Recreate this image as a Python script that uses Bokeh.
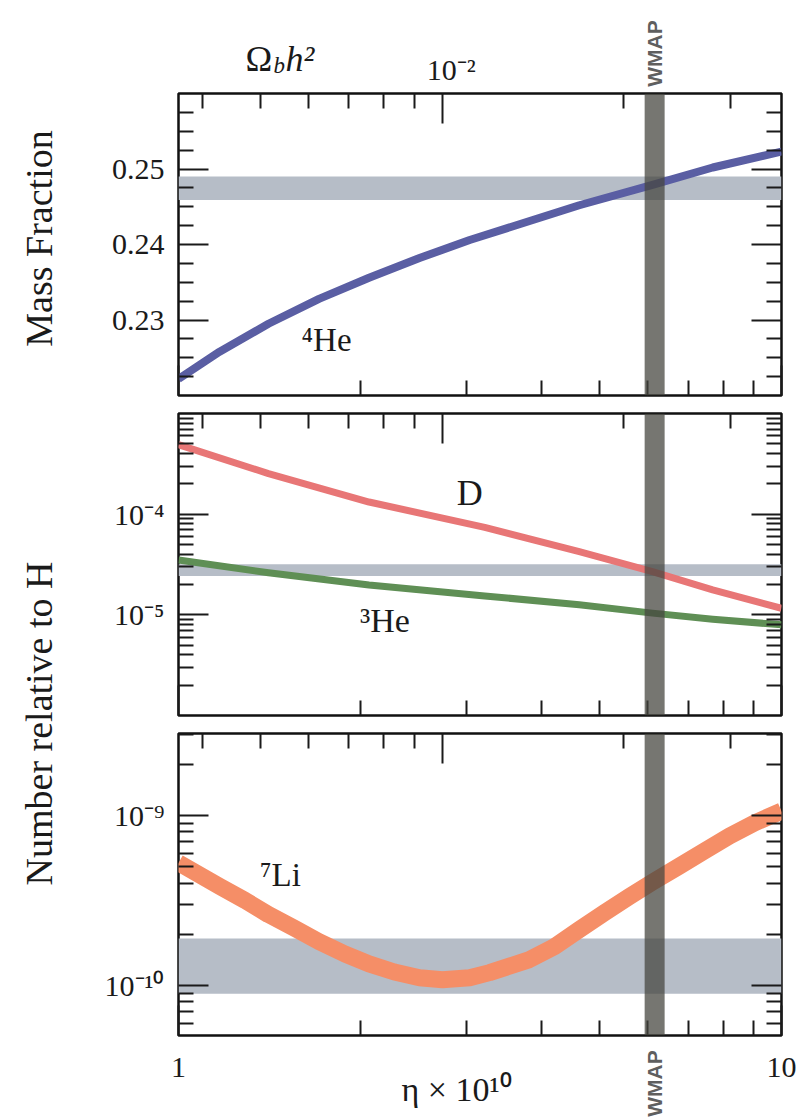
import math
from bokeh.plotting import figure
from bokeh.models import Range1d, LogScale, LogAxis, LinearAxis, FixedTicker, BoxAnnotation, Label
from bokeh.layouts import row, column
from bokeh.embed import file_html
from bokeh.resources import INLINE

# ---------------- data ----------------
ETA_PER_OMEGA = 273.9          # eta*1e10 = 273.9 * Omega_b h^2

eta_he4 = [1.0, 1.17, 1.41, 1.71, 2.07, 2.51, 3.04, 4.62, 6.11, 7.69, 10.0]
y_he4 = [0.2222, 0.2258, 0.2295, 0.2328, 0.2356, 0.2382, 0.2406, 0.2452, 0.2479, 0.2502, 0.2523]

eta_d = [1.0, 1.41, 2.07, 3.22, 4.62, 6.11, 7.69, 10.0]
y_d = [4.90e-4, 2.53e-4, 1.32e-4, 7.4e-5, 4.24e-5, 2.69e-5, 1.77e-5, 1.16e-5]

eta_he3 = [1.0, 1.41, 2.07, 3.22, 4.62, 6.11, 7.69, 10.0]
y_he3 = [3.51e-5, 2.62e-5, 1.98e-5, 1.54e-5, 1.26e-5, 1.04e-5, 9.06e-6, 7.96e-6]

eta_li = [1.0, 1.17, 1.29, 1.41, 1.56, 1.71, 1.89, 2.07, 2.28, 2.51, 2.74, 3.04, 3.28,
          3.82, 4.20, 4.62, 5.09, 5.60, 6.11, 6.77, 7.45, 8.20, 9.02, 10.0]
y_li = [5.26e-10, 3.83e-10, 3.16e-10, 2.61e-10, 2.16e-10, 1.81e-10, 1.53e-10, 1.34e-10,
        1.20e-10, 1.11e-10, 1.08e-10, 1.11e-10, 1.19e-10, 1.42e-10, 1.69e-10, 2.13e-10,
        2.68e-10, 3.34e-10, 4.05e-10, 5.03e-10, 6.17e-10, 7.57e-10, 9.03e-10, 1.06e-9]

he4_band = [0.2459, 0.2490]
d_band = [2.43e-5, 3.18e-5]
li_band = [8.93e-11, 1.89e-10]
wmap_band = [5.93, 6.40]

# axis ticks
eta_major = [1, 10]
eta_minor = [2, 3, 4, 5, 6, 7, 8, 9]
eta_tick_text = ["1", "10"]
om_major = [0.01]
om_minor = [0.004, 0.005, 0.006, 0.007, 0.008, 0.009, 0.02, 0.03]
om_tick_text = ["10⁻²"]
he_major = [0.23, 0.24, 0.25]
he_minor = [0.2225, 0.225, 0.2275, 0.2325, 0.235, 0.2375, 0.2425, 0.245, 0.2475, 0.2525, 0.255, 0.2575]
he_labels = {0.23: "0.23", 0.24: "0.24", 0.25: "0.25"}
mid_major = [1e-5, 1e-4]
mid_minor = [k * 1e-6 for k in range(2, 10)] + [k * 1e-5 for k in range(2, 10)] + [k * 1e-4 for k in range(2, 10)]
mid_labels = {1e-5: "10⁻⁵", 1e-4: "10⁻⁴"}
li_major = [1e-10, 1e-9]
li_minor = [k * 1e-11 for k in range(6, 10)] + [k * 1e-10 for k in range(2, 10)] + [2e-9, 3e-9]
li_labels = {1e-10: "10⁻¹⁰", 1e-9: "10⁻⁹"}

# ---------------- styling / layout constants ----------------
SERIF = "Liberation Serif"
SANS = "Liberation Sans"
INK = "#1a1a1a"
BAND = "#b6bdc7"
WMAP_C = "#46463f"
WMAP_TXT = "#5f5f5f"
C_HE4 = "#5a5ea3"
C_D = "#e87676"
C_HE3 = "#5f8f55"
C_LI = "#f58e67"

LABEL_W = 83          # left strip with the y titles
PANEL_W = 718
LEFT_PAD = 95
RIGHT_PAD = 20
FRAME_W = PANEL_W - LEFT_PAD - RIGHT_PAD
FRAME_L = LABEL_W + LEFT_PAD          # page x of the panel frames
TOP_H = 91
BOT_H = 82
TOTAL_H = 1119
TOTAL_W = LABEL_W + PANEL_W
UPPER_H = TOTAL_H - BOT_H

X_RANGE = Range1d(1, 10)
# the bottom strip spans the whole page width: widen the log range accordingly
BOT_RANGE = Range1d(10 ** (-FRAME_L / FRAME_W), 10 ** ((TOTAL_W - FRAME_L) / FRAME_W))


def style_axis(ax, ticks, minor, labels=None, size="30px", standoff=14):
    ax.ticker = FixedTicker(ticks=ticks, minor_ticks=minor)
    ax.axis_line_color = None
    ax.major_tick_in = 30
    ax.major_tick_out = 0
    ax.minor_tick_in = 15
    ax.minor_tick_out = 0
    ax.major_tick_line_color = INK
    ax.minor_tick_line_color = INK
    ax.major_tick_line_width = 2
    ax.minor_tick_line_width = 2
    ax.major_label_text_font = SERIF
    ax.major_label_text_color = INK
    if labels:
        ax.major_label_overrides = labels
        ax.major_label_text_font_size = size
        ax.major_label_standoff = standoff
    else:
        ax.major_label_overrides = {t: "" for t in ticks}
        ax.major_label_text_font_size = "1px"
        ax.major_label_standoff = 0


def make_panel(height, y_type, y_range, top_b, bottom_b, ymaj, ymin, ylab):
    p = figure(width=PANEL_W, height=height, x_axis_type="log", y_axis_type=y_type,
               x_range=X_RANGE, y_range=y_range, output_backend="svg",
               toolbar_location=None, min_border_left=LEFT_PAD, min_border_right=RIGHT_PAD,
               min_border_top=top_b, min_border_bottom=bottom_b)
    p.grid.visible = False
    p.outline_line_color = "#111111"
    p.outline_line_width = 2.5
    p.extra_x_ranges = {"om": Range1d(1 / ETA_PER_OMEGA, 10 / ETA_PER_OMEGA)}
    p.extra_x_scales = {"om": LogScale()}
    style_axis(p.xaxis[0], eta_major, eta_minor, None)
    style_axis(p.yaxis[0], ymaj, ymin, ylab, standoff=14)
    top = LogAxis(x_range_name="om")
    style_axis(top, om_major, om_minor, None)
    p.add_layout(top, "above")
    right = LogAxis() if y_type == "log" else LinearAxis()
    style_axis(right, ymaj, ymin, None)
    p.add_layout(right, "right")
    return p


def make_strip(width, height, y_top_page, x_range):
    # y data = page y (reversed range); x uses the same log mapping as the panels
    s = figure(width=width, height=height, x_axis_type="log",
               x_range=x_range, y_range=Range1d(y_top_page + height, y_top_page),
               x_axis_location=None, y_axis_location=None, output_backend="svg",
               toolbar_location=None, min_border=0)
    s.grid.visible = False
    s.outline_line_color = None
    return s


def hband(p, band):
    p.add_layout(BoxAnnotation(bottom=band[0], top=band[1], fill_color=BAND,
                               fill_alpha=1.0, line_color=None, level="underlay"))


def wmap(p):
    p.add_layout(BoxAnnotation(left=wmap_band[0], right=wmap_band[1], fill_color=WMAP_C,
                               fill_alpha=0.74, line_color=None))


def tag(p, x, y, text, size="33px", **kw):
    kw.setdefault("text_align", "center")
    kw.setdefault("text_baseline", "middle")
    p.add_layout(Label(x=x, y=y, text=text, text_font=SERIF, text_font_size=size,
                       text_color=INK, **kw))


def wmap_text(s, y):
    s.add_layout(Label(x=wmap_mid, y=y, text="WMAP", angle=math.pi / 2,
                       text_align="center", text_baseline="middle", text_font=SANS,
                       text_font_style="bold", text_font_size="21px", text_color=WMAP_TXT))


def page_to_eta(px):
    return 10 ** ((px - FRAME_L) / FRAME_W)


wmap_mid = math.sqrt(wmap_band[0] * wmap_band[1])

# ---------- top strip: Omega_b h^2 axis title, its tick label, WMAP ----------
ts = make_strip(PANEL_W, TOP_H, 0, X_RANGE)
tag(ts, page_to_eta(245), 58, "Ω", "36px", text_align="left", text_baseline="alphabetic")
tag(ts, page_to_eta(273), 65, "b", "23px", text_align="left",
    text_baseline="alphabetic", text_font_style="italic")
tag(ts, page_to_eta(285), 58, "h²", "36px", text_align="left",
    text_baseline="alphabetic", text_font_style="italic")
for om, txt in zip(om_major, om_tick_text):
    tag(ts, om * ETA_PER_OMEGA, 69, txt, "30px", x_offset=9)
wmap_text(ts, 53)

# ---------- top: 4He ----------
p1 = make_panel(313, "linear", Range1d(0.22, 0.26), 2, 9, he_major, he_minor, he_labels)
hband(p1, he4_band)
p1.line(eta_he4, y_he4, line_width=8, color=C_HE4, line_join="round")
wmap(p1)
tag(p1, 1.76, 0.2273, "⁴He")

# ---------- middle: D and 3He ----------
p2 = make_panel(320, "log", Range1d(1e-6, 1e-3), 9, 9, mid_major, mid_minor, mid_labels)
hband(p2, d_band)
p2.line(eta_d, y_d, line_width=7, color=C_D, line_join="round")
p2.line(eta_he3, y_he3, line_width=7, color=C_HE3, line_join="round")
wmap(p2)
tag(p2, 3.04, 1.61e-4, "D", "36px")
tag(p2, 2.20, 8.73e-6, "³He", "34px")

# ---------- bottom: 7Li ----------
p3 = make_panel(313, "log", Range1d(5.08e-11, 3.03e-9), 9, 2, li_major, li_minor, li_labels)
hband(p3, li_band)
p3.line(eta_li, y_li, line_width=17, color=C_LI, line_join="round")
wmap(p3)
tag(p3, 1.476, 4.44e-10, "⁷Li")

# ---------- left label strip ----------
lf = figure(width=LABEL_W, height=UPPER_H, x_range=Range1d(0, LABEL_W),
            y_range=Range1d(UPPER_H, 0), x_axis_location=None, y_axis_location=None,
            output_backend="svg", toolbar_location=None, min_border=0)
lf.grid.visible = False
lf.outline_line_color = None
for txt, yy in [("Mass Fraction", 238), ("Number relative to H", 723)]:
    lf.add_layout(Label(x=38, y=yy, text=txt, angle=math.pi / 2, text_align="center",
                        text_baseline="middle", text_font=SERIF, text_font_size="38px",
                        text_color=INK))

# ---------- bottom strip (full width): eta tick labels, axis title, WMAP ----------
bs = make_strip(TOTAL_W, BOT_H, UPPER_H, BOT_RANGE)
for e, txt in zip(eta_major, eta_tick_text):
    tag(bs, e, 1067, txt, "30px")
wmap_text(bs, 1083)
tag(bs, page_to_eta(456), 1089, "η × 10¹⁰", "34px")

layout = column(row(lf, column(ts, p1, p2, p3)), bs)
open("out.html", "w").write(file_html(layout, INLINE))
